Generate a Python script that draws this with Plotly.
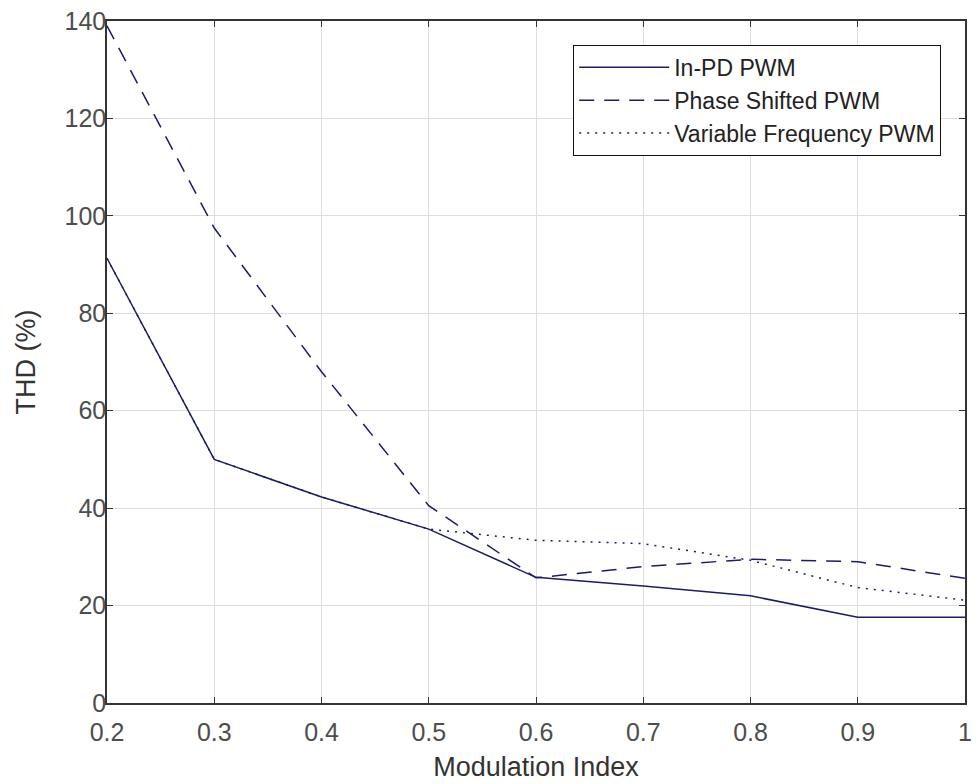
import plotly.graph_objects as go

mod_index = [0.2, 0.3, 0.4, 0.5, 0.6, 0.7, 0.8, 0.9, 1.0]
in_pd = [91.3, 50.0, 42.3, 35.7, 25.8, 24.0, 22.0, 17.6, 17.6]
phase_shifted = [139.0, 97.5, 68.0, 40.5, 25.7, 28.0, 29.5, 29.0, 25.6]
variable_freq = [91.3, 50.0, 42.3, 35.7, 33.4, 32.7, 29.3, 23.7, 21.1]

x_ticks = [0.2, 0.3, 0.4, 0.5, 0.6, 0.7, 0.8, 0.9, 1.0]
x_tick_text = ["0.2", "0.3", "0.4", "0.5", "0.6", "0.7", "0.8", "0.9", "1"]
y_ticks = [0, 20, 40, 60, 80, 100, 120, 140]

LINE = "#1c1c66"
FONT = "Liberation Sans, Arial, sans-serif"

fig = go.Figure()
fig.add_trace(go.Scatter(x=mod_index, y=in_pd, mode="lines", name="In-PD PWM",
                         line=dict(color=LINE, width=1.5, dash="solid")))
fig.add_trace(go.Scatter(x=mod_index, y=phase_shifted, mode="lines", name="Phase Shifted PWM",
                         line=dict(color=LINE, width=1.5, dash="15px,10px")))
fig.add_trace(go.Scatter(x=mod_index, y=variable_freq, mode="lines", name="Variable Frequency PWM",
                         line=dict(color=LINE, width=1.5, dash="2px,6px")))

axis_common = dict(
    showgrid=True, gridcolor="#dedede", gridwidth=1,
    showline=True, linecolor="#333333", linewidth=1.5, mirror="ticks",
    ticks="inside", ticklen=6, tickcolor="#333333", tickwidth=1,
    zeroline=False,
    tickfont=dict(family=FONT, size=25, color="#4d4d4d"),
)

fig.update_layout(
    width=979, height=784,
    margin=dict(l=107, r=7, t=21, b=79),
    paper_bgcolor="white", plot_bgcolor="white",
    font=dict(family=FONT, color="#333333"),
    xaxis=dict(range=[0.2, 1.0], tickvals=x_ticks, ticktext=x_tick_text,
               ticklabelstandoff=6,
               title=dict(text="Modulation Index", font=dict(family=FONT, size=27, color="#333333"),
                          standoff=12),
               **axis_common),
    yaxis=dict(range=[0, 140], tickvals=y_ticks,
               ticklabelstandoff=-6,
               title=dict(text="THD (%)", font=dict(family=FONT, size=27, color="#333333"),
                          standoff=21),
               **axis_common),
    legend=dict(x=0.9723, y=0.965, xanchor="right", yanchor="top",
                bgcolor="white", bordercolor="#111111", borderwidth=1,
                font=dict(family=FONT, size=23, color="#222222"),
                itemwidth=90, tracegroupgap=0),
    showlegend=True,
)

fig.write_html("out.html")
